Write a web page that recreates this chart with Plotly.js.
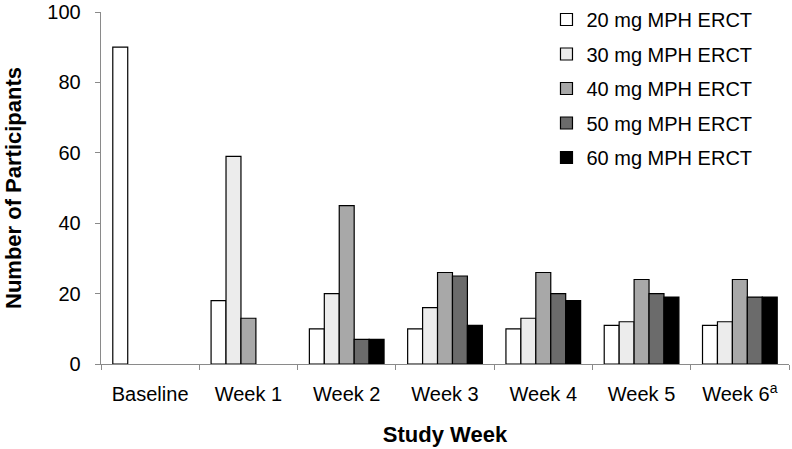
<!DOCTYPE html>
<html>
<head>
<meta charset="utf-8">
<script src="https://cdn.plot.ly/plotly-3.0.1.min.js"></script>
<style>html,body{margin:0;padding:0;background:#fff;}#chart{width:792px;height:449px;}</style>
</head>
<body>
<div id="chart"></div>
<script>
const weeks = ["Baseline", "Week 1", "Week 2", "Week 3", "Week 4", "Week 5", "Week 6<sup>a</sup>"];
const seriesNames = ["20 mg MPH ERCT", "30 mg MPH ERCT", "40 mg MPH ERCT", "50 mg MPH ERCT", "60 mg MPH ERCT"];
const mg20 = [90, 18, 10, 10, 10, 11, 11];
const mg30 = [null, 59, 20, 16, 13, 12, 12];
const mg40 = [null, 13, 45, 26, 26, 24, 24];
const mg50 = [null, null, 7, 25, 20, 20, 19];
const mg60 = [null, null, 7, 11, 18, 19, 19];
const yTicks = [0, 20, 40, 60, 80, 100];

const seriesValues = [mg20, mg30, mg40, mg50, mg60];
const fills = ["#ffffff", "#ececec", "#a8a8a8", "#6b6b6b", "#000000"];

const traces = seriesNames.map((name, i) => ({
  type: "bar",
  name: name,
  x: weeks,
  y: seriesValues[i],
  legendgroup: "g" + i,
  marker: {color: fills[i], line: {color: "#000000", width: 1.2}},
  hoverinfo: "x+y+name"
}));

const font = "'Liberation Sans', Arial, sans-serif";
const layout = {
  width: 792,
  height: 449,
  margin: {l: 101, r: 3, t: 12, b: 85, pad: 0, autoexpand: false},
  paper_bgcolor: "#ffffff",
  plot_bgcolor: "#ffffff",
  font: {family: font, color: "#000000", size: 19},
  barmode: "group",
  bargap: 0.24,
  bargroupgap: 0,
  showlegend: true,
  legend: {
    xref: "container", yref: "container",
    x: 0.69, xanchor: "left",
    y: 1.0, yanchor: "top",
    traceorder: "grouped",
    tracegroupgap: 5.5,
    font: {family: font, size: 20, color: "#000000"},
    bgcolor: "rgba(255,255,255,0)"
  },
  xaxis: {
    type: "category",
    showline: true,
    linecolor: "#8a8a8a",
    linewidth: 1.3,
    ticks: "outside",
    tickson: "boundaries",
    ticklen: 5,
    tickcolor: "#8a8a8a",
    tickfont: {family: font, size: 20, color: "#000000"},
    tickangle: 0,
    ticklabelstandoff: 12,
    ticklabeloverflow: "allow",
    showgrid: false,
    zeroline: false,
    title: {text: "Study Week", font: {family: font, size: 22, color: "#000000", weight: "bold"}, standoff: 22}
  },
  yaxis: {
    range: [0, 100],
    tickvals: yTicks,
    showline: true,
    linecolor: "#8a8a8a",
    linewidth: 1.3,
    ticks: "outside",
    ticklen: 5,
    tickcolor: "#8a8a8a",
    tickfont: {family: font, size: 20, color: "#000000"},
    ticklabelstandoff: 10,
    ticklabeloverflow: "allow",
    showgrid: false,
    zeroline: false,
    title: {text: "Number of Participants", font: {family: font, size: 22, color: "#000000", weight: "bold"}, standoff: 19}
  }
};

Plotly.newPlot("chart", traces, layout, {displayModeBar: false, staticPlot: true});
</script>
</body>
</html>
